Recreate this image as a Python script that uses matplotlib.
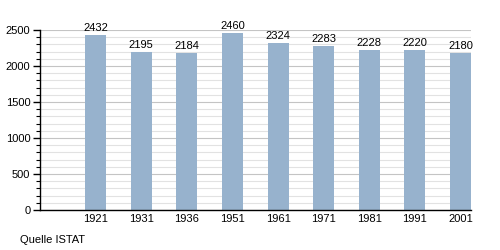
import matplotlib.pyplot as plt
from matplotlib.ticker import MultipleLocator

plt.rcParams['font.family'] = ['Liberation Sans', 'DejaVu Sans']

years = ["1921", "1931", "1936", "1951", "1961", "1971", "1981", "1991", "2001"]
population = [2432, 2195, 2184, 2460, 2324, 2283, 2228, 2220, 2180]

fig = plt.figure(figsize=(5, 2.5), dpi=100)
ax = fig.add_axes([0.08, 0.16, 0.862, 0.72])

x = range(len(years))
ax.bar(x, population, width=0.46, color="#97b2cd", zorder=2)
for i, v in zip(x, population):
    ax.text(i, v + 25, str(v), ha="center", va="bottom", fontsize=8)

ax.set_xlim(-1.22, 8.23)
ax.set_ylim(0, 2500)
ax.set_xticks(list(x))
ax.set_xticklabels(years)
ax.yaxis.set_major_locator(MultipleLocator(500))
ax.yaxis.set_minor_locator(MultipleLocator(100))
ax.grid(axis="y", which="major", color="#c4c4c4", lw=0.8, zorder=0)
ax.grid(axis="y", which="minor", color="#e2e2e2", lw=0.8, zorder=0)

ax.tick_params(axis="x", length=0, labelsize=8, pad=3)
ax.tick_params(axis="y", which="major", length=5, width=1, labelsize=8, pad=2)
ax.tick_params(axis="y", which="minor", length=3, width=0.8)
for side in ["top", "right"]:
    ax.spines[side].set_visible(False)
for side in ["left", "bottom"]:
    ax.spines[side].set_linewidth(1)

fig.text(0.04, 0.04, "Quelle ISTAT", fontsize=8, va="center")

fig.savefig("out.png", dpi=100)
